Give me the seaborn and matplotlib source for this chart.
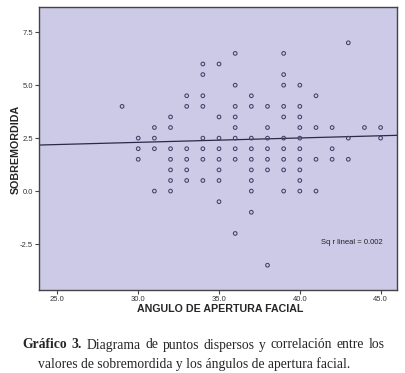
import numpy as np
import pandas as pd
import seaborn as sns
import matplotlib
matplotlib.use("Agg")
import matplotlib.pyplot as plt

# values, grouped by sobremordida level
angulo = [43,
          36, 39,
          34, 35,
          34, 39,
          36, 39, 40,
          33, 34, 37, 41,
          29, 33, 34, 36, 37, 38, 39, 40,
          32, 35, 36, 39, 40,
          31, 32, 36, 38, 40, 41, 42, 44, 45,
          30, 31, 34, 35, 36, 37, 38, 39, 40, 43, 45,
          30, 31, 32, 33, 34, 35, 36, 37, 38, 39, 40, 42,
          30, 32, 33, 34, 35, 36, 37, 38, 39, 40, 41, 42, 43,
          32, 33, 35, 37, 38, 39, 40,
          32, 33, 34, 35, 37, 40,
          31, 32, 37, 39, 40, 41,
          35,
          37,
          36,
          38]
niveles = [7.0, 6.5, 6.0, 5.5, 5.0, 4.5, 4.0, 3.5, 3.0, 2.5, 2.0, 1.5, 1.0, 0.5, 0.0, -0.5, -1.0, -2.0, -3.5]
n_por_nivel = [1, 2, 2, 2, 3, 4, 8, 5, 9, 11, 12, 13, 7, 6, 6, 1, 1, 1, 1]
sobremordida = np.repeat(niveles, n_por_nivel)

# fit line
fit_intercept = 1.68
fit_slope = 0.0207
r2_text = "Sq r lineal = 0.002"

xticks = [25.0, 30.0, 35.0, 40.0, 45.0]
yticks = [-2.5, 0.0, 2.5, 5.0, 7.5]

df = pd.DataFrame({"ANGULO DE APERTURA FACIAL": angulo, "SOBREMORDIDA": sobremordida})

sns.set_style("ticks")
plt.rcParams['font.family'] = ['Liberation Sans', 'DejaVu Sans']

fig = plt.figure(figsize=(4.05, 3.73), dpi=100)
ax = fig.add_axes([0.0963, 0.2225, 0.885, 0.7587])
ax.set_facecolor("#cccae6")

sns.scatterplot(data=df, x="ANGULO DE APERTURA FACIAL", y="SOBREMORDIDA", ax=ax,
                marker="o", s=7, facecolors="none", edgecolor="#40406a", linewidth=0.75, zorder=3)
ax.axline((0, fit_intercept), slope=fit_slope, color="#2a2a48", lw=0.9, zorder=2)

ax.set_xlim(23.86, 46.04)
ax.set_ylim(-4.67, 8.69)
ax.set_xticks(xticks)
ax.set_yticks(yticks)
ax.set_xticklabels(["%.1f" % v for v in xticks])
ax.set_yticklabels(["%.1f" % v for v in yticks])
ax.tick_params(labelsize=5.5, labelcolor="#333333", length=3, width=0.8, color="#444444", pad=1.5)
for sp in ax.spines.values():
    sp.set_color("#444444")
    sp.set_linewidth(1.0)

ax.set_xlabel("ANGULO DE APERTURA FACIAL", fontsize=7.7, fontweight="bold")
ax.set_ylabel("SOBREMORDIDA", fontsize=7.7, fontweight="bold")
ax.xaxis.set_label_coords(0.505, -0.05)
ax.yaxis.set_label_coords(-0.052, 0.495)
ax.text(0.96, 0.168, r2_text, transform=ax.transAxes, ha="right", va="center", fontsize=5.5, color="#222222")

# caption: first line justified, bold lead
serif = ['Liberation Serif', 'DejaVu Serif']
r = fig.canvas.get_renderer()
palabras = ["Gráfico", "3.", "Diagrama", "de", "puntos", "dispersos", "y", "correlación", "entre", "los"]
negrita = [True, True, False, False, False, False, False, False, False, False]
y1 = 1 - 345 / 373
objs = [fig.text(0, y1, p, fontsize=9.8, family=serif, va="center",
                 fontweight="bold" if b else "normal") for p, b in zip(palabras, negrita)]
anchos = [o.get_window_extent(r).width for o in objs]
left_px, right_px = 22, 385
gap = (right_px - left_px - sum(anchos)) / (len(objs) - 1)
xpx = left_px
for o, w in zip(objs, anchos):
    o.set_x(xpx / 405)
    xpx += w + gap
fig.text(194 / 405, 1 - 364 / 373, "valores de sobremordida y los ángulos de apertura facial.",
         fontsize=9.8, family=serif, ha="center", va="center")

fig.savefig("out.png", dpi=100, facecolor="white")
